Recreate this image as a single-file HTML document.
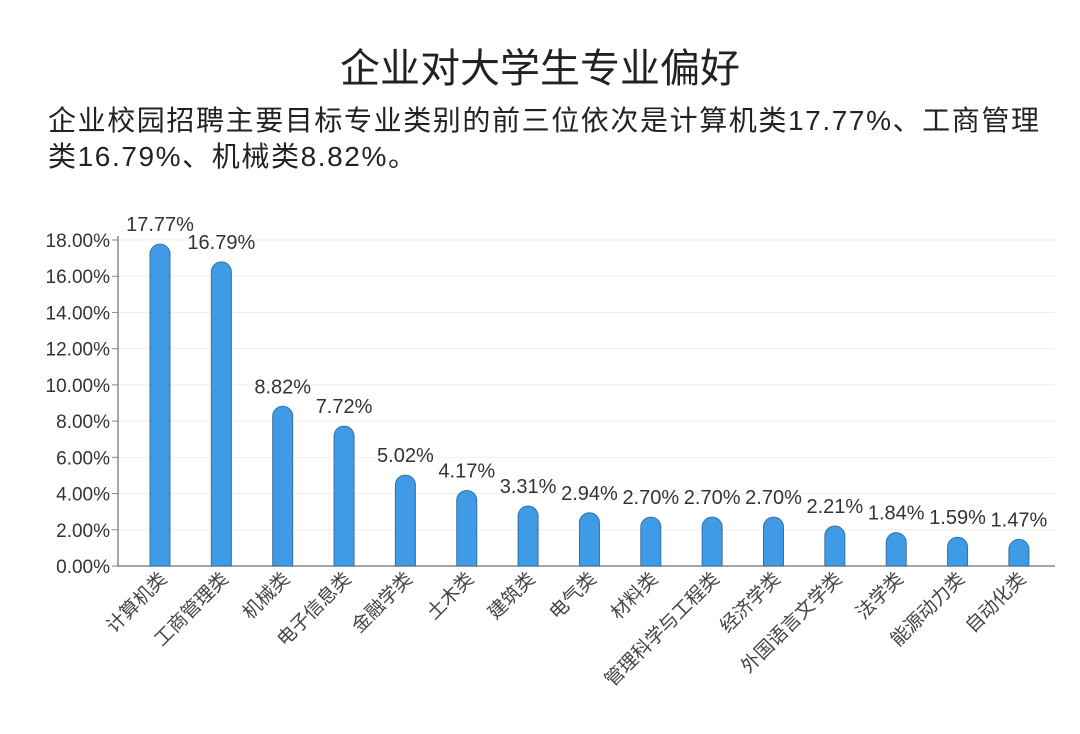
<!DOCTYPE html>
<html><head><meta charset="utf-8"><style>
body{margin:0;background:#fff;width:1080px;height:734px;overflow:hidden;font-family:"Liberation Sans","Noto Sans CJK SC",sans-serif;color:#333}
#title{position:absolute;top:36px;left:0;width:1080px;text-align:center;font-size:40px;color:#222}
#sub{position:absolute;top:103px;left:48px;width:1030px;font-size:28px;line-height:36px;color:#222;letter-spacing:1.6px;white-space:nowrap}
</style></head><body>
<div id="title">企业对大学生专业偏好</div>
<div id="sub">企业校园招聘主要目标专业类别的前三位依次是计算机类17.77%、工商管理<br>类16.79%、机械类8.82%。</div>
<svg id="chart" width="1080" height="734" style="position:absolute;left:0;top:0"></svg>
<script>
const categories=["计算机类","工商管理类","机械类","电子信息类","金融学类","土木类","建筑类","电气类","材料类","管理科学与工程类","经济学类","外国语言文学类","法学类","能源动力类","自动化类"];
const values=[17.77,16.79,8.82,7.72,5.02,4.17,3.31,2.94,2.70,2.70,2.70,2.21,1.84,1.59,1.47];
const yTicks=[0,2,4,6,8,10,12,14,16,18];
const NS="http://www.w3.org/2000/svg";
const svg=document.getElementById('chart');
const y0=566,pxPer=(566-240)/18;
const y=v=>y0-v*pxPer;
const x=i=>160+i*61.35;
function mk(t,a,p){const e=document.createElementNS(NS,t);for(const k in a)e.setAttribute(k,a[k]);(p||svg).appendChild(e);return e;}
yTicks.forEach(t=>{
  const g=mk('line',{x1:118,x2:1055,y1:y(t),y2:y(t),stroke:t?'#eeeeee':'#888','stroke-width':t?1:1.5});
  
  
  mk('line',{x1:112,x2:118,y1:y(t),y2:y(t),stroke:'#888'});
  const l=mk('text',{x:110,y:y(t)+7,'text-anchor':'end','font-size':19,fill:'#333'});
  l.textContent=t.toFixed(2)+'%';
  
  
});
mk('line',{x1:118,x2:118,y1:236,y2:567,stroke:'#888','stroke-width':1.5});
values.forEach((v,i)=>{
  const cx=x(i),top=y(v),w=20,r=10;
  const b=mk('path',{d:`M${cx-w/2},${y0} L${cx-w/2},${top+r} A${r},${r} 0 0 1 ${cx+w/2},${top+r} L${cx+w/2},${y0} Z`,fill:'#3f9be6',stroke:'#3a6f9c','stroke-width':1});
  
  
  const t=mk('text',{x:cx,y:top-13,'text-anchor':'middle','font-size':20,fill:'#333'});
  t.textContent=v.toFixed(2)+'%';
  
  
  const c=mk('text',{x:cx+8,y:580,'text-anchor':'end','font-size':19,fill:'#444',transform:`rotate(-45 ${cx+8} 580)`});
  c.textContent=categories[i];
  
  
});
</script>
</body></html>
